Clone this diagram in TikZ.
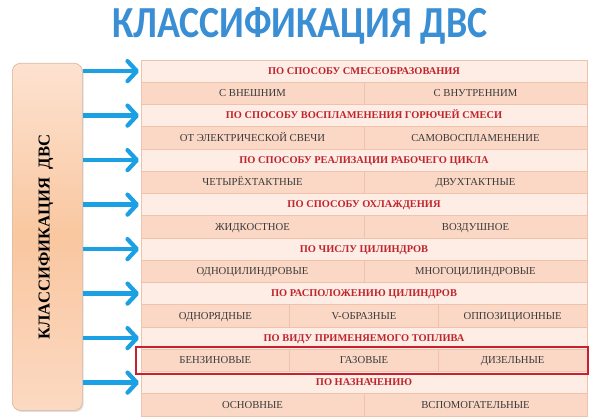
\documentclass[tikz,border=0pt]{standalone}
\usepackage{fontspec}
\setmainfont{Liberation Serif}
\newfontfamily\titlefont{Carlito}
\usetikzlibrary{arrows.meta,shadows,calc}
\definecolor{hdrfill}{HTML}{FDEDE5}
\definecolor{datfill}{HTML}{FBD8C6}
\definecolor{gridline}{HTML}{EFC2AB}
\definecolor{hdrtext}{HTML}{C0242C}
\definecolor{dattext}{HTML}{3A3A3A}
\definecolor{arrowblue}{HTML}{1CA0E4}
\definecolor{titleblue}{HTML}{3A8ED4}
\definecolor{boxtop}{HTML}{FDE2D0}
\definecolor{boxmid}{HTML}{F9C7A0}
\definecolor{boxbot}{HTML}{FCD9C2}
\definecolor{boxedge}{HTML}{D9B89E}
\definecolor{redframe}{HTML}{C8202E}
\tikzset{
  hdr/.style={draw=gridline, line width=0.6pt, fill=hdrfill, anchor=north west,
    minimum width=334.5pt, minimum height=16.6875pt, inner sep=0pt, outer sep=0pt,
    text height=5.4pt, text depth=0.6pt,
    text=hdrtext, font=\fontsize{7.8pt}{9pt}\selectfont\bfseries},
  cellii/.style={draw=gridline, line width=0.6pt, fill=datfill, anchor=north west,
    minimum width=167.25pt, minimum height=16.6875pt, inner sep=0pt, outer sep=0pt,
    text height=5.4pt, text depth=0.6pt,
    text=dattext, font=\fontsize{8pt}{9pt}\selectfont},
  celliii/.style={cellii, minimum width=111.5pt},
  barrow/.style={draw=arrowblue, line width=3.2pt,
    -{Straight Barb[length=7pt,width=15pt,round]}, shorten >=1.5pt},
}
\begin{document}
\begin{tikzpicture}[x=0.75pt,y=-0.75pt]
\useasboundingbox (0,0) rectangle (600,420);
\fill[white] (0,0) rectangle (600,420);

% title
\node[anchor=base, inner sep=0pt, text=titleblue] (title) at (300,38)
  {\resizebox{281pt}{22.5pt}{\titlefont\bfseries КЛАССИФИКАЦИЯ ДВС}};

% left box
\node[draw=boxedge, line width=0.5pt, rounded corners=6pt,
  top color=boxtop, bottom color=boxbot, middle color=boxmid,
  drop shadow={opacity=0.25, shadow xshift=1pt, shadow yshift=-1.2pt},
  minimum width=52.5pt, minimum height=260.25pt, inner sep=0pt, anchor=north west]
  (L) at (12,63) {};
\node[rotate=90, font=\fontsize{12.5pt}{14pt}\selectfont\bfseries, text=black, inner sep=0pt]
  (Ltext) at (46,237) {КЛАССИФИКАЦИЯ\ \ ДВС};

% header rows
\node[hdr] (h0)  at (141,60)     {ПО СПОСОБУ СМЕСЕОБРАЗОВАНИЯ};
\node[hdr] (h2)  at (141,104.5)  {ПО СПОСОБУ ВОСПЛАМЕНЕНИЯ ГОРЮЧЕЙ СМЕСИ};
\node[hdr] (h4)  at (141,149)    {ПО СПОСОБУ РЕАЛИЗАЦИИ РАБОЧЕГО ЦИКЛА};
\node[hdr] (h6)  at (141,193.5)  {ПО СПОСОБУ ОХЛАЖДЕНИЯ};
\node[hdr] (h8)  at (141,238)    {ПО ЧИСЛУ ЦИЛИНДРОВ};
\node[hdr] (h10) at (141,282.5)  {ПО РАСПОЛОЖЕНИЮ ЦИЛИНДРОВ};
\node[hdr] (h12) at (141,327)    {ПО ВИДУ ПРИМЕНЯЕМОГО ТОПЛИВА};
\node[hdr] (h14) at (141,371.5)  {ПО НАЗНАЧЕНИЮ};

% data rows
\node[cellii] (r1a) at (141,82.25)  {С ВНЕШНИМ};
\node[cellii] (r1b) at (364,82.25)  {С ВНУТРЕННИМ};
\node[cellii] (r3a) at (141,126.75) {ОТ ЭЛЕКТРИЧЕСКОЙ СВЕЧИ};
\node[cellii] (r3b) at (364,126.75) {САМОВОСПЛАМЕНЕНИЕ};
\node[cellii] (r5a) at (141,171.25) {ЧЕТЫРЁХТАКТНЫЕ};
\node[cellii] (r5b) at (364,171.25) {ДВУХТАКТНЫЕ};
\node[cellii] (r7a) at (141,215.75) {ЖИДКОСТНОЕ};
\node[cellii] (r7b) at (364,215.75) {ВОЗДУШНОЕ};
\node[cellii] (r9a) at (141,260.25) {ОДНОЦИЛИНДРОВЫЕ};
\node[cellii] (r9b) at (364,260.25) {МНОГОЦИЛИНДРОВЫЕ};
\node[celliii] (r11a) at (141,304.75)    {ОДНОРЯДНЫЕ};
\node[celliii] (r11b) at (289.667,304.75) {V-ОБРАЗНЫЕ};
\node[celliii] (r11c) at (438.333,304.75) {ОППОЗИЦИОННЫЕ};
\node[celliii] (r13a) at (141,349.25)    {БЕНЗИНОВЫЕ};
\node[celliii] (r13b) at (289.667,349.25) {ГАЗОВЫЕ};
\node[celliii] (r13c) at (438.333,349.25) {ДИЗЕЛЬНЫЕ};
\node[cellii] (r15a) at (141,393.75) {ОСНОВНЫЕ};
\node[cellii] (r15b) at (364,393.75) {ВСПОМОГАТЕЛЬНЫЕ};

% red frame around fuel row
\draw[redframe, line width=1.5pt] (136,347) rectangle (588,374);

% arrows
\foreach \i in {0,2,...,14}
  \draw[barrow] (L.east |- h\i.west) -- (h\i.west);
\end{tikzpicture}
\end{document}
